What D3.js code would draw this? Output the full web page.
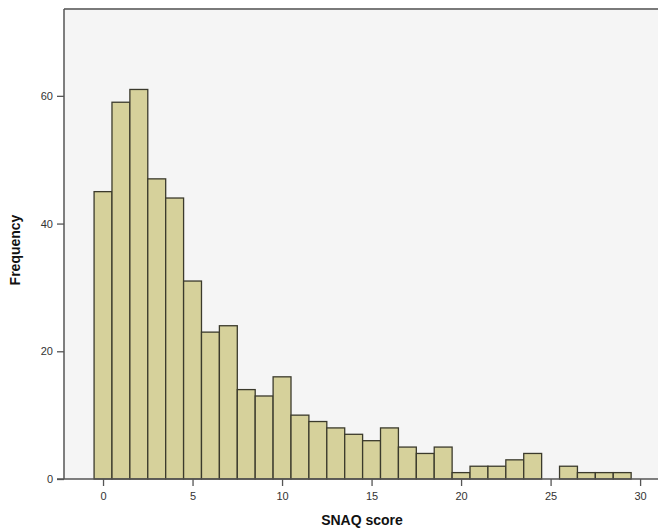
<!DOCTYPE html>
<html>
<head>
<meta charset="utf-8">
<script src="https://cdn.jsdelivr.net/npm/d3@7"></script>
<style>
  html, body { margin: 0; padding: 0; background: #fff; }
  svg { display: block; font-family: Arial, "Liberation Sans", sans-serif; }
</style>
</head>
<body>
<svg id="chart" width="658" height="530"></svg>
<script>
// SNAQ score histogram: one bin per integer score
const scores = d3.range(0, 30);
const frequencies = [45, 59, 61, 47, 44, 31, 23, 24, 14, 13, 16, 10, 9, 8, 7, 6, 8, 5, 4, 5, 1, 2, 2, 3, 4, 0, 2, 1, 1, 1];
const xTicks = [0, 5, 10, 15, 20, 25, 30];
const yTicks = [0, 20, 40, 60];

const svg = d3.select("#chart");
const plot = { left: 64, top: 9, right: 658, bottom: 479 };

const x = d3.scaleLinear().domain([-2.18, 31.0]).range([plot.left, plot.right]);
const y = d3.scaleLinear().domain([0, 73.6]).range([plot.bottom, plot.top]);

// plot area background
svg.append("rect")
  .attr("x", plot.left).attr("y", plot.top)
  .attr("width", plot.right - plot.left).attr("height", plot.bottom - plot.top)
  .attr("fill", "#f5f5f5");

// frame top edge
svg.append("line")
  .attr("x1", plot.left).attr("x2", plot.right)
  .attr("y1", plot.top).attr("y2", plot.top)
  .attr("stroke", "#7a7a7a").attr("stroke-width", 2);

// bars
svg.append("g").selectAll("rect")
  .data(scores.map((s, i) => ({ s, f: frequencies[i] })).filter(d => d.f > 0))
  .join("rect")
  .attr("x", d => x(d.s - 0.5))
  .attr("width", d => x(d.s + 0.5) - x(d.s - 0.5))
  .attr("y", d => y(d.f))
  .attr("height", d => y(0) - y(d.f))
  .attr("fill", "#d6d19b")
  .attr("stroke", "#3b3a2c")
  .attr("stroke-width", 1.3);

// y axis
const yAxis = svg.append("g")
  .attr("transform", `translate(${plot.left},0)`)
  .call(d3.axisLeft(y).tickValues(yTicks).tickSize(7).tickPadding(4).tickFormat(d3.format("d")));
yAxis.select(".domain").attr("stroke", "#555").attr("stroke-width", 1.5)
  .attr("d", `M0,${plot.top}V${plot.bottom}`);
yAxis.selectAll(".tick line").attr("stroke", "#555").attr("stroke-width", 1.3);
yAxis.selectAll(".tick text").attr("fill", "#333").style("font-size", "11px");

// x axis
const xAxis = svg.append("g")
  .attr("transform", `translate(0,${plot.bottom})`)
  .call(d3.axisBottom(x).tickValues(xTicks).tickSize(7).tickPadding(6).tickFormat(d3.format("d")));
xAxis.select(".domain").attr("stroke", "#555").attr("stroke-width", 1.5)
  .attr("d", `M${plot.left - 7},0H${plot.right}`);
xAxis.selectAll(".tick line").attr("stroke", "#555").attr("stroke-width", 1.3);
xAxis.selectAll(".tick text").attr("fill", "#333").style("font-size", "11px");

// axis titles
svg.append("text")
  .attr("x", 362).attr("y", 525)
  .attr("text-anchor", "middle")
  .style("font-size", "14px").style("font-weight", "bold").attr("fill", "#111")
  .text("SNAQ score");

svg.append("text")
  .attr("transform", "translate(20,250) rotate(-90)")
  .attr("text-anchor", "middle")
  .style("font-size", "14px").style("font-weight", "bold").attr("fill", "#111")
  .text("Frequency");
</script>
</body>
</html>
